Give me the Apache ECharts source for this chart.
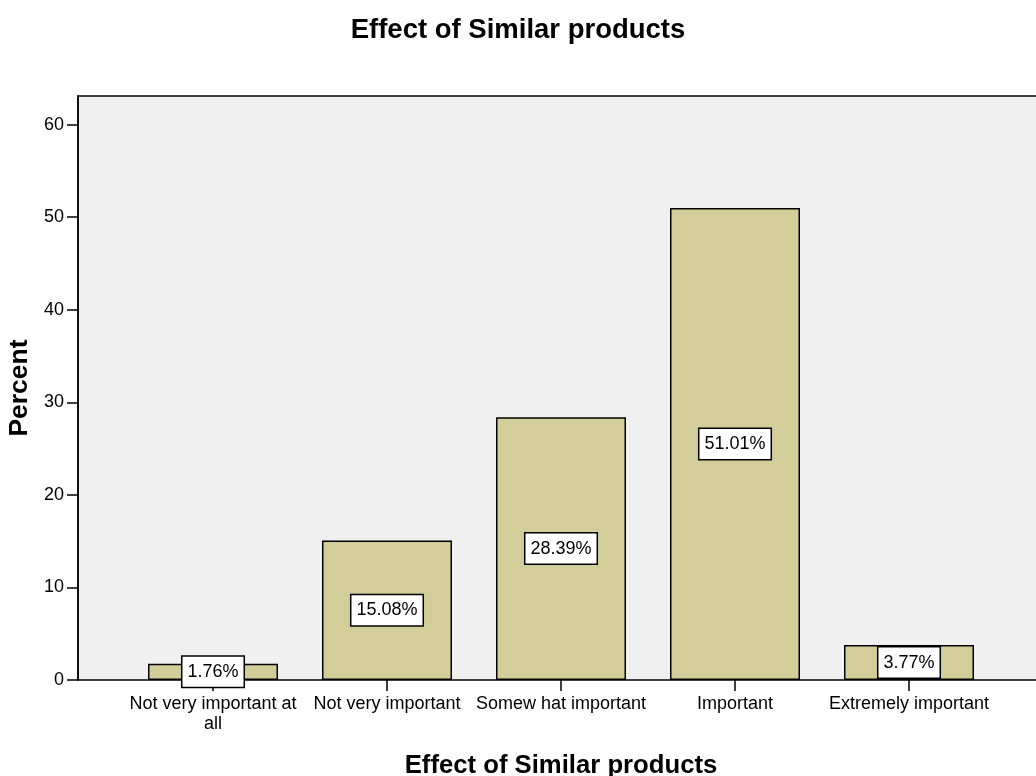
<!DOCTYPE html>
<html>
<head>
<meta charset="utf-8">
<script src="https://cdn.jsdelivr.net/npm/echarts@6/dist/echarts.min.js"></script>
<style>
  html, body { margin: 0; padding: 0; background: #fff; }
  #chart { width: 1036px; height: 776px; }
</style>
</head>
<body>
<div id="chart"></div>
<script>
// Share of responses per importance level
const categories = ['Not very important at all', 'Not very important', 'Somew hat important', 'Important', 'Extremely important'];
const percents = [1.76, 15.08, 28.39, 51.01, 3.77];
const yTicks = [0, 10, 20, 30, 40, 50, 60];

const FONT = 'Arial, "Liberation Sans", sans-serif';
const Y_MAX = 63.1;

const chart = echarts.init(document.getElementById('chart'), null, { renderer: 'canvas' });

chart.setOption({
  backgroundColor: '#ffffff',
  animation: false,
  title: {
    text: 'Effect of Similar products',
    left: 'center',
    top: 11,
    textStyle: { fontFamily: FONT, fontSize: 27.5, fontWeight: 'bold', color: '#000' }
  },
  grid: [
    // framed plot background (wider than the bar band)
    { left: 78, top: 96, width: 966, height: 584, show: true, outerBoundsMode: 'none',
      backgroundColor: '#f0f0f0', borderColor: '#000', borderWidth: 1.5 },
    // band holding the bars
    { left: 126, top: 96, width: 870, height: 584, outerBoundsMode: 'none' }
  ],
  xAxis: [
    { type: 'value', gridIndex: 0, show: false, min: 0, max: 1 },
    {
      type: 'category', gridIndex: 1, data: categories,
      name: 'Effect of Similar products', nameLocation: 'middle', nameGap: 73,
      nameTextStyle: { fontFamily: FONT, fontSize: 25.7, fontWeight: 'bold', color: '#000' },
      axisLine: { show: false },
      axisTick: { show: true, alignWithLabel: true, length: 11, lineStyle: { color: '#000', width: 1.5 } },
      axisLabel: {
        fontFamily: FONT, fontSize: 18, color: '#000', margin: 14, lineHeight: 20,
        interval: 0,
        formatter: v => v === 'Not very important at all' ? 'Not very important at\nall' : v
      },
      splitLine: { show: false }
    }
  ],
  yAxis: [
    {
      type: 'value', gridIndex: 0, min: 0, max: Y_MAX, interval: 10,
      name: 'Percent', nameLocation: 'middle', nameGap: 39,
      nameTextStyle: { fontFamily: FONT, fontSize: 26.5, fontWeight: 'bold', color: '#000' },
      axisLine: { show: true, lineStyle: { color: '#000', width: 1.5 } },
      axisTick: { show: true, length: 11, lineStyle: { color: '#000', width: 1.5 } },
      axisLabel: {
        fontFamily: FONT, fontSize: 18, color: '#000', margin: 14,
        showMaxLabel: false,
        formatter: v => (yTicks.indexOf(v) >= 0 ? String(v) : '')
      },
      splitLine: { show: false }
    },
    { type: 'value', gridIndex: 1, min: 0, max: Y_MAX, show: false, splitLine: { show: false } }
  ],
  series: [{
    type: 'bar',
    xAxisIndex: 1,
    yAxisIndex: 1,
    data: percents,
    barWidth: 130,
    itemStyle: { color: '#d3ce99', borderColor: '#000', borderWidth: 1.5 },
    label: {
      show: true,
      position: 'inside',
      formatter: p => p.value.toFixed(2) + '%',
      fontFamily: FONT, fontSize: 18, color: '#000', lineHeight: 20,
      backgroundColor: '#fff', borderColor: '#000', borderWidth: 1.5,
      padding: [5, 5]
    }
  }]
});
</script>
</body>
</html>
